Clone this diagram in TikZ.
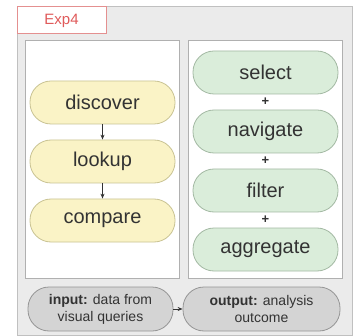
\documentclass[tikz,border=0pt]{standalone}
\usepackage{fontspec}
\setmainfont{Liberation Sans}
\usetikzlibrary{arrows.meta}
\definecolor{outerfill}{HTML}{EBEBEB}
\definecolor{outerline}{HTML}{C0C0C0}
\definecolor{panelline}{HTML}{B0B0B0}
\definecolor{yfill}{HTML}{FAF3C6}
\definecolor{yline}{HTML}{C9C393}
\definecolor{gfill}{HTML}{DAEDDA}
\definecolor{gline}{HTML}{A3B9A3}
\definecolor{grfill}{HTML}{D4D4D4}
\definecolor{grline}{HTML}{959595}
\definecolor{txt}{HTML}{333333}
\definecolor{expred}{HTML}{E05A5A}
\definecolor{expline}{HTML}{E49090}
\tikzset{
  pill/.style={draw, line width=0.8pt, rounded corners=21pt, inner sep=0pt,
    minimum height=43pt, text=txt, font=\fontsize{20}{22}\selectfont},
  ynode/.style={pill, fill=yfill, draw=yline, minimum width=145pt},
  gnode/.style={pill, fill=gfill, draw=gline, minimum width=145pt},
  iobox/.style={pill, fill=grfill, draw=grline, minimum height=44pt, align=center,
    font=\fontsize{14}{17}\selectfont},
  panel/.style={draw=panelline, fill=white, line width=1pt},
  plus/.style={text=txt, font=\fontsize{13}{13}\selectfont\bfseries, inner sep=0pt},
  conn/.style={-{Stealth[length=5pt,width=4pt]}, line width=0.8pt, draw=txt}
}
\begin{document}
\begin{tikzpicture}[x=1pt,y=-1pt]
\useasboundingbox (0,0) rectangle (355,336);
\draw[fill=outerfill, draw=outerline, line width=1pt] (17,7) rectangle (352,335);
\node[draw=expline, fill=white, line width=1pt, inner sep=0pt, minimum width=89pt, minimum height=27pt,
  text=expred, font=\fontsize{15}{15}\selectfont] (exp) at (61.5,20.5) {Exp4};
\draw[panel] (25,41) rectangle (179,278);
\draw[panel] (188,41) rectangle (342,278);
\node[ynode] (discover) at (102.5,102.5) {discover};
\node[ynode] (lookup) at (102.5,161.5) {lookup};
\node[ynode] (compare) at (102.5,220.5) {compare};
\draw[conn] (discover) -- (lookup);
\draw[conn] (lookup) -- (compare);
\node[gnode] (select) at (265.5,72.5) {select};
\node[gnode] (navigate) at (265.5,131.5) {navigate};
\node[gnode] (filter) at (265.5,190.5) {filter};
\node[gnode] (aggregate) at (265.5,249.5) {aggregate};
\node[plus] (p1) at (265.5,102) {+};
\node[plus] (p2) at (265.5,161) {+};
\node[plus] (p3) at (265.5,220) {+};
\node[iobox, minimum width=145pt] (input) at (100.5,309) {\textbf{input:} data from\\visual queries};
\node[iobox, minimum width=157pt] (output) at (261.5,309) {\textbf{output:} analysis\\outcome};
\draw[conn] (input) -- (output);
\end{tikzpicture}
\end{document}
